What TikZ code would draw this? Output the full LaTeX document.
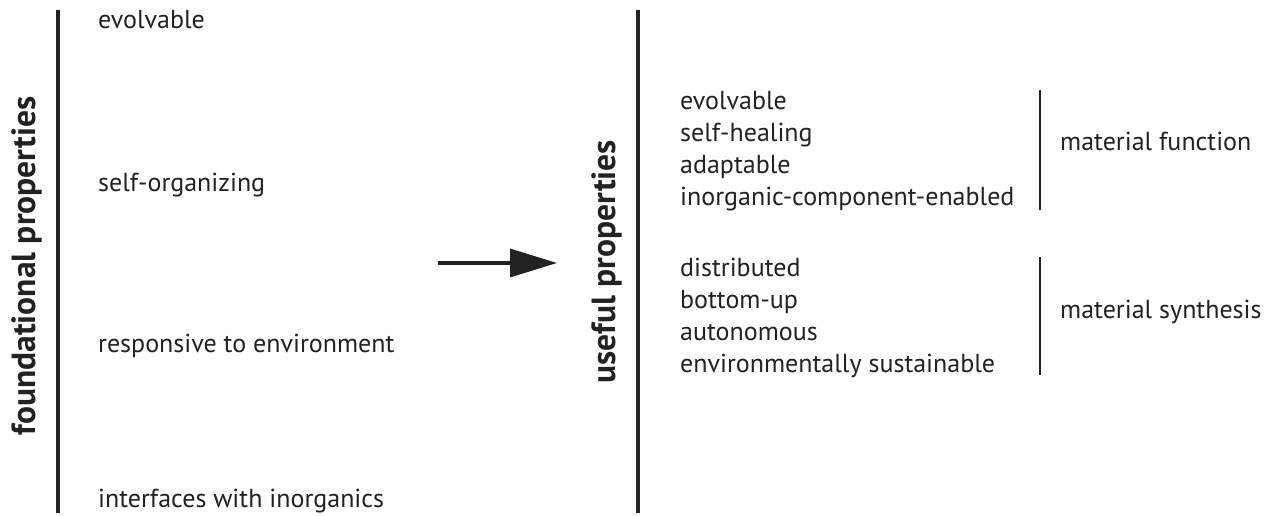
\documentclass[tikz,border=0pt]{standalone}
\usepackage{fontspec}
\setmainfont{PT Sans}
\usetikzlibrary{arrows.meta}
\definecolor{ink}{HTML}{222222}
\tikzset{
  x=1pt,y=-1pt,
  item/.style={anchor=west,inner sep=0pt,text height=19pt,text depth=6pt,text=ink,font=\fontsize{26}{30}\selectfont},
  title/.style={rotate=90,inner sep=0pt,text=ink,font=\bfseries\fontsize{33.5}{38}\selectfont},
  bar/.style={draw=ink,line width=4pt},
  thinbar/.style={draw=ink,line width=1.5pt},
  flow/.style={draw=ink,line width=3.5pt,-{Triangle[length=47pt,width=28pt]}}
}
\begin{document}
\begin{tikzpicture}
\useasboundingbox[fill=white] (0,0) rectangle (1272,516);
% left column
\coordinate (lt) at (58,10);
\coordinate (lb) at (58,513);
\draw[bar] (lt) -- (lb);
\node[title] (ftitle) at (27,266) {foundational properties};
\node[item] (f1) at (98,22) {evolvable};
\node[item] (f2) at (98,185) {self-organizing};
\node[item] (f3) at (98,346) {responsive to environment};
\node[item] (f4) at (98,501) {interfaces with inorganics};
% arrow
\coordinate (as) at (438,263);
\coordinate (ae) at (557,263);
\draw[flow] (as) -- (ae);
% right column
\coordinate (rt) at (638,10);
\coordinate (rb) at (638,513);
\draw[bar] (rt) -- (rb);
\node[title] (utitle) at (607,262) {useful properties};
\node[item] (u1) at (680,103) {evolvable};
\node[item] (u2) at (680,135) {self-healing};
\node[item] (u3) at (680,167) {adaptable};
\node[item] (u4) at (680,199) {inorganic-component-enabled};
\coordinate (g1t) at (1040,90);
\coordinate (g1b) at (1040,210);
\draw[thinbar] (g1t) -- (g1b);
\node[item] (mf) at (1060,144) {material function};
\node[item] (u5) at (680,270) {distributed};
\node[item] (u6) at (680,302) {bottom-up};
\node[item] (u7) at (680,334) {autonomous};
\node[item] (u8) at (680,366) {environmentally sustainable};
\coordinate (g2t) at (1040,257);
\coordinate (g2b) at (1040,375);
\draw[thinbar] (g2t) -- (g2b);
\node[item] (ms) at (1060,312) {material synthesis};
\end{tikzpicture}
\end{document}
